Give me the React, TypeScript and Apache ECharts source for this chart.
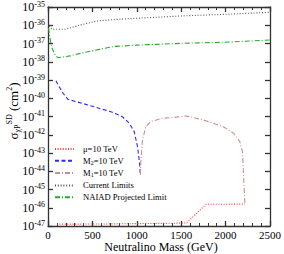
import React, { useEffect, useRef } from "react";
import * as echarts from "echarts";

// x: neutralino mass (GeV), y: log10 of cross-section (cm^2)
const muData: [number, number][] = [
  [100, -46.9], [600, -46.89], [1000, -46.87], [1400, -46.85], [1560, -46.83],
  [1780, -45.81], [2218, -45.8],
];
const m2Data: [number, number][] = [
  [89, -39.04], [115, -39.27], [170, -39.73], [225, -40.06], [357, -40.24],
  [543, -40.5], [725, -40.77], [837, -41.01], [915, -41.37], [971, -41.83],
  [1008, -42.65], [1030, -43.5], [1040, -44.2],
];
const m1Data: [number, number][] = [
  [1040, -44.2], [1046, -43.4], [1064, -42.29], [1101, -41.56], [1157, -41.28],
  [1283, -41.1], [1417, -41.05], [1560, -40.97], [1750, -41.19], [1975, -41.56],
  [2090, -41.92], [2160, -42.38], [2190, -42.93], [2200, -44.0], [2210, -45.0],
  [2218, -45.8],
];
const currentData: [number, number][] = [
  [10, -36.05], [50, -36.22], [200, -36.22], [350, -36.0], [550, -35.77],
  [700, -35.7], [1000, -35.62], [1500, -35.49], [2000, -35.4], [2500, -35.29],
];
const naiadData: [number, number][] = [
  [5, -36.15], [20, -36.64], [40, -37.19], [80, -37.63], [110, -37.78],
  [250, -37.68], [400, -37.5], [580, -37.32], [750, -37.16], [1000, -37.09],
  [1500, -36.99], [2000, -36.93], [2500, -36.81],
];

const seriesNames = ["mu", "M2", "M1", "Current Limits", "NAIAD Projected Limit"];
const xTicks = [0, 500, 1000, 1500, 2000, 2500];
const yExpMin = -47;
const yExpMax = -35;

const FONT = "'Liberation Serif', 'DejaVu Serif', serif";

export default function App() {
  const ref = useRef<HTMLDivElement>(null);
  useEffect(() => {
    document.body.style.margin = "0";
    if (!ref.current) return;
    const chart = echarts.init(ref.current, undefined, { renderer: "svg" });
    const axisLineStyle = { color: "#333", width: 1.3 };
    const commonX = {
      type: "value" as const,
      min: xTicks[0],
      max: xTicks[xTicks.length - 1],
      interval: 500,
      splitLine: { show: false },
      axisLine: { show: true, onZero: false, lineStyle: axisLineStyle },
      axisTick: { show: true, inside: true, length: 5, lineStyle: axisLineStyle },
      minorTick: { show: true, splitNumber: 5, length: 3, lineStyle: { color: "#333", width: 1 } },
    };
    const commonY = {
      type: "value" as const,
      min: yExpMin,
      max: yExpMax,
      interval: 1,
      splitLine: { show: false },
      axisLine: { show: true, onZero: false, lineStyle: axisLineStyle },
      axisTick: { show: true, inside: true, length: 5, lineStyle: axisLineStyle },
    };
    const mk = (name: string, data: [number, number][], color: string, type: any) => ({
      name,
      type: "line" as const,
      data,
      symbol: "none",
      showSymbol: false,
      lineStyle: { color, width: 1.1, type },
      itemStyle: { color },
    });
    chart.setOption({
      animation: false,
      grid: { left: 48, right: 12, top: 7, bottom: 28 },
      xAxis: [
        {
          ...commonX,
          position: "bottom",
          axisLabel: {
            show: true,
            fontFamily: FONT,
            fontSize: 11,
            color: "#000",
            margin: 3,
            formatter: (v: number) => String(Math.round(v)),
          },
        },
        { ...commonX, position: "top", axisLabel: { show: false } },
      ],
      yAxis: [
        {
          ...commonY,
          position: "left",
          axisLabel: {
            show: true,
            margin: 3,
            formatter: (v: number) => `{b|10}{s|${Math.round(v)}}`,
            rich: {
              b: { fontFamily: FONT, fontSize: 12, color: "#000", lineHeight: 14 },
              s: { fontFamily: FONT, fontSize: 8, color: "#000", verticalAlign: "top", lineHeight: 8 },
            },
          },
        },
        { ...commonY, position: "right", axisLabel: { show: false } },
      ],
      legend: {
        orient: "vertical",
        left: 54,
        top: 144.5,
        itemWidth: 19,
        itemHeight: 9,
        itemGap: 2.8,
        padding: 0,
        data: seriesNames,
        itemStyle: { opacity: 0 },
        formatter: (name: string) => {
          if (name === "mu") return "{t|μ=10 TeV}";
          if (name === "M2") return "{t|M}{u|2}{t|=10 TeV}";
          if (name === "M1") return "{t|M}{u|1}{t|=10 TeV}";
          return `{t|${name}}`;
        },
        textStyle: {
          padding: [0, 0, 0, 4],
          rich: {
            t: { fontFamily: FONT, fontSize: 8.6, color: "#000", lineHeight: 10 },
            u: { fontFamily: FONT, fontSize: 6, color: "#000", verticalAlign: "bottom", lineHeight: 6 },
          },
        },
      },
      series: [
        mk("mu", muData, "#ff3a3a", [1, 1.6]),
        mk("M2", m2Data, "#2a2aff", [4, 2.5]),
        mk("M1", m1Data, "#c89090", [5, 2, 1, 2]),
        mk("Current Limits", currentData, "#555", [1, 1.8]),
        mk("NAIAD Projected Limit", naiadData, "#2aa82a", [5, 2, 1, 2]),
      ],
      graphic: [
        {
          type: "text",
          x: 13,
          y: 111,
          rotation: Math.PI / 2,
          style: {
            text: "{m|σ}{sub|χP}{sup|SD}{m| (cm}{sup|2}{m|)}",
            align: "center",
            verticalAlign: "middle",
            rich: {
              m: { fontFamily: FONT, fontSize: 13, fill: "#000", color: "#000", lineHeight: 16 },
              sub: { fontFamily: FONT, fontSize: 8, fill: "#000", color: "#000", verticalAlign: "bottom", lineHeight: 8 },
              sup: { fontFamily: FONT, fontSize: 8, fill: "#000", color: "#000", verticalAlign: "top", lineHeight: 8 },
            },
          },
        },
        {
          type: "text",
          x: 161,
          y: 247,
          style: {
            text: "Neutralino Mass (GeV)",
            fontFamily: FONT,
            fontSize: 12,
            fill: "#000",
            align: "center",
            verticalAlign: "middle",
          },
        },
      ],
    });
    return () => chart.dispose();
  }, []);
  return <div ref={ref} style={{ width: 284, height: 254 }} />;
}
